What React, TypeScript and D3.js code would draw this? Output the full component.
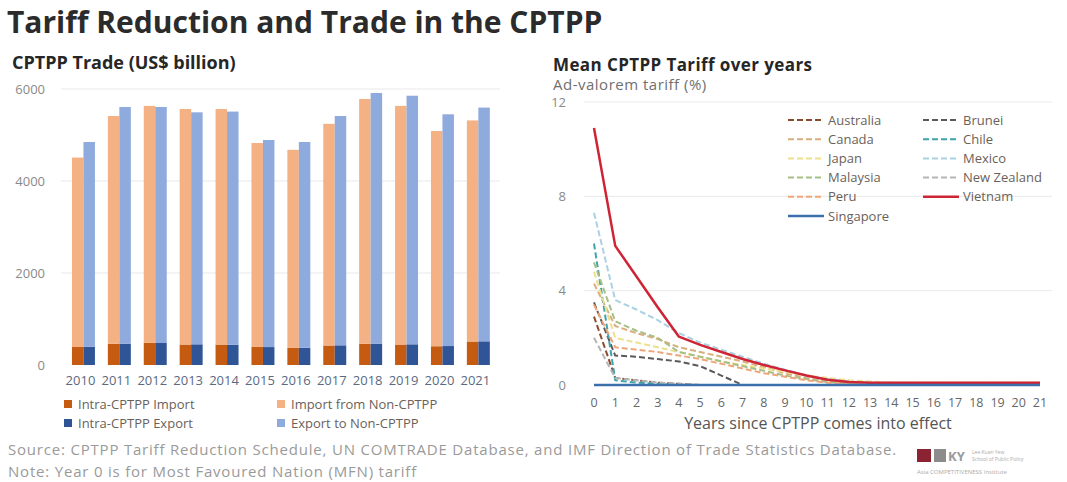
import React from 'react';
import * as d3 from 'd3';

// ---------- Left chart data (US$ billion) ----------
const years = ['2010', '2011', '2012', '2013', '2014', '2015', '2016', '2017', '2018', '2019', '2020', '2021'];
const intraImport = [391, 460, 482, 445, 445, 393, 371, 424, 460, 445, 408, 511];
const importNonCPTPP = [4118, 4953, 5151, 5120, 5120, 4433, 4307, 4819, 5323, 5188, 4679, 4806];
const intraExport = [395, 465, 478, 450, 440, 390, 375, 428, 465, 450, 412, 515];
const exportNonCPTPP = [4453, 5144, 5131, 5043, 5069, 4501, 4473, 4985, 5448, 5404, 5038, 5081];
const leftTicks = [0, 2000, 4000, 6000];

// ---------- Right chart data (mean ad-valorem tariff, %) ----------
const yearsSince = [0, 1, 2, 3, 4, 5, 6, 7, 8, 9, 10, 11, 12, 13, 14, 15, 16, 17, 18, 19, 20, 21];
const australia = [2.9, 0.3, 0.2, 0.1, 0.05, 0, 0, 0, 0, 0, 0, 0, 0, 0, 0, 0, 0, 0, 0, 0, 0, 0];
const brunei = [3.5, 1.25, 1.2, 1.1, 1.0, 0.8, 0.4, 0, 0, 0, 0, 0, 0, 0, 0, 0, 0, 0, 0, 0, 0, 0];
const canada = [4.3, 2.5, 2.2, 1.95, 1.6, 1.4, 1.2, 1.0, 0.75, 0.5, 0.3, 0.15, 0.05, 0, 0, 0, 0, 0, 0, 0, 0, 0];
const chile = [6.0, 0.2, 0.1, 0.05, 0, 0, 0, 0, 0, 0, 0, 0, 0, 0, 0, 0, 0, 0, 0, 0, 0, 0];
const japan = [4.8, 2.0, 1.8, 1.6, 1.4, 1.2, 1.0, 0.85, 0.7, 0.55, 0.4, 0.3, 0.2, 0.15, 0.1, 0.1, 0.1, 0.1, 0.1, 0.1, 0.1, 0.1];
const mexico = [7.3, 3.6, 3.2, 2.75, 2.2, 1.8, 1.5, 1.2, 0.9, 0.65, 0.4, 0.25, 0.15, 0.1, 0.1, 0.1, 0.1, 0.1, 0.1, 0.1, 0.1, 0.1];
const malaysia = [5.2, 2.7, 2.3, 2.0, 1.4, 1.2, 1.0, 0.8, 0.6, 0.4, 0.25, 0.12, 0.05, 0, 0, 0, 0, 0, 0, 0, 0, 0];
const newZealand = [2.0, 0.3, 0.2, 0.1, 0.05, 0, 0, 0, 0, 0, 0, 0, 0, 0, 0, 0, 0, 0, 0, 0, 0, 0];
const peru = [3.4, 1.6, 1.5, 1.4, 1.25, 1.1, 0.9, 0.7, 0.5, 0.35, 0.2, 0.1, 0.05, 0, 0, 0, 0, 0, 0, 0, 0, 0];
const vietnam = [10.9, 5.9, 4.6, 3.3, 2.05, 1.7, 1.4, 1.1, 0.85, 0.62, 0.4, 0.22, 0.13, 0.1, 0.1, 0.1, 0.1, 0.1, 0.1, 0.1, 0.1, 0.1];
const singapore = [0, 0, 0, 0, 0, 0, 0, 0, 0, 0, 0, 0, 0, 0, 0, 0, 0, 0, 0, 0, 0, 0];
const rightTicks = [0, 4, 8, 12];

const series = [
  { name: 'Australia', values: australia, color: '#8a4a2c', dash: '6,3', w: 2 },
  { name: 'Brunei', values: brunei, color: '#5a5a5a', dash: '6,3', w: 2 },
  { name: 'Canada', values: canada, color: '#d9ad7c', dash: '6,3', w: 2 },
  { name: 'Chile', values: chile, color: '#3fa3ad', dash: '6,3', w: 2 },
  { name: 'Japan', values: japan, color: '#ece08c', dash: '6,3', w: 2 },
  { name: 'Mexico', values: mexico, color: '#a9d2e4', dash: '6,3', w: 2 },
  { name: 'Malaysia', values: malaysia, color: '#a7bf86', dash: '6,3', w: 2 },
  { name: 'New Zealand', values: newZealand, color: '#b5b5b5', dash: '6,3', w: 2 },
  { name: 'Peru', values: peru, color: '#eea57a', dash: '6,3', w: 2 },
  { name: 'Vietnam', values: vietnam, color: '#cf2336', dash: '', w: 2.5 },
  { name: 'Singapore', values: singapore, color: '#3a6fab', dash: '', w: 2.5 },
];

const FONT = '"Open Sans", "Noto Sans", sans-serif';

export default function App() {
  // left scales
  const xL = d3.scaleBand<string>().domain(years).range([65.5, 496.3]).paddingInner(0.36).paddingOuter(0.18);
  const yL = d3.scaleLinear().domain([0, 6000]).range([365, 89]);
  const bw = xL.bandwidth() / 2;

  // right scales
  const xR = d3.scaleLinear().domain([0, 21]).range([594, 1040]);
  const yR = d3.scaleLinear().domain([0, 12]).range([385, 102]);
  const line = d3.line<number>().x((_, i) => xR(yearsSince[i])).y((v) => yR(v));

  const legendL = [
    { label: 'Intra-CPTPP Import', color: '#c55a11', x: 64, y: 404 },
    { label: 'Import from Non-CPTPP', color: '#f4b183', x: 277, y: 404 },
    { label: 'Intra-CPTPP Export', color: '#2f5597', x: 64, y: 423 },
    { label: 'Export to Non-CPTPP', color: '#8faadc', x: 277, y: 423 },
  ];

  const legendOrder = ['Australia', 'Brunei', 'Canada', 'Chile', 'Japan', 'Mexico', 'Malaysia', 'New Zealand', 'Peru', 'Vietnam', 'Singapore'];

  return (
    <svg width={1067} height={482} style={{ position: 'absolute', left: 0, top: 0, background: '#fff' }} fontFamily={FONT}>
      <rect x={0} y={0} width={1067} height={482} fill="#fff" />
      <text x={7} y={33} fontSize={30} fontWeight={700} fill="#2b2b2b">Tariff Reduction and Trade in the CPTPP</text>

      {/* ---------- Left chart ---------- */}
      <text x={12} y={69} fontSize={18} fontWeight={700} fill="#262626">CPTPP Trade (US$ billion)</text>
      {leftTicks.map((t) => (
        <g key={t}>
          {t > 0 && <line x1={61} x2={500} y1={yL(t)} y2={yL(t)} stroke="#e9e9e9" strokeWidth={1} />}
          <text x={45} y={yL(t) + 4.5} fontSize={13} fill="#8a8a8a" textAnchor="end">{t}</text>
        </g>
      ))}
      {years.map((yr, i) => {
        const x0 = xL(yr)!;
        return (
          <g key={yr}>
            <rect x={x0} width={bw} y={yL(intraImport[i])} height={yL(0) - yL(intraImport[i])} fill="#c55a11" />
            <rect x={x0} width={bw} y={yL(intraImport[i] + importNonCPTPP[i])} height={yL(intraImport[i]) - yL(intraImport[i] + importNonCPTPP[i])} fill="#f4b183" />
            <rect x={x0 + bw} width={bw} y={yL(intraExport[i])} height={yL(0) - yL(intraExport[i])} fill="#2f5597" />
            <rect x={x0 + bw} width={bw} y={yL(intraExport[i] + exportNonCPTPP[i])} height={yL(intraExport[i]) - yL(intraExport[i] + exportNonCPTPP[i])} fill="#8faadc" />
            <text x={x0 + bw - 3} y={385} fontSize={13} fill="#5b6a80" textAnchor="middle">{yr}</text>
          </g>
        );
      })}
      {legendL.map((l) => (
        <g key={l.label}>
          <rect x={l.x} y={l.y - 4} width={8} height={8} fill={l.color} />
          <text x={l.x + 14} y={l.y + 4.5} fontSize={13} fill="#6b5f5a">{l.label}</text>
        </g>
      ))}

      {/* ---------- Right chart ---------- */}
      <text x={553} y={71} fontSize={17} letterSpacing={0.4} fontWeight={700} fill="#262626">Mean CPTPP Tariff over years</text>
      <text x={553} y={90} fontSize={15} letterSpacing={0.5} fill="#6f6f6f">Ad-valorem tariff (%)</text>
      {rightTicks.map((t) => (
        <g key={t}>
          {t > 0 && <line x1={584} x2={1052} y1={yR(t)} y2={yR(t)} stroke="#e9e9e9" strokeWidth={1} />}
          <text x={566} y={yR(t) + 4.5} fontSize={13} fill="#8a8a8a" textAnchor="end">{t}</text>
        </g>
      ))}
      {yearsSince.map((t) => (
        <text key={t} x={xR(t)} y={407} fontSize={12.5} fill="#666" textAnchor="middle">{t}</text>
      ))}
      <text x={818} y={429} fontSize={16} fill="#555" textAnchor="middle">Years since CPTPP comes into effect</text>
      {series.map((s) => (
        <path key={s.name} d={line(s.values) || ''} fill="none" stroke={s.color} strokeWidth={s.w} strokeDasharray={s.dash || undefined} strokeLinejoin="round" />
      ))}
      {legendOrder.map((name, i) => {
        const s = series.find((d) => d.name === name)!;
        const col = i % 2;
        const row = Math.floor(i / 2);
        const lx = col === 0 ? 788 : 923;
        const ly = 120 + row * 19.2;
        return (
          <g key={name}>
            <line x1={lx} x2={lx + 36} y1={ly} y2={ly} stroke={s.color} strokeWidth={s.w} strokeDasharray={s.dash || undefined} />
            <text x={lx + 40} y={ly + 4.5} fontSize={13} fill="#6b5f5a">{name}</text>
          </g>
        );
      })}

      {/* ---------- Footer ---------- */}
      <text x={8} y={455} fontSize={15} letterSpacing={0.8} fill="#9a9a9a">Source: CPTPP Tariff Reduction Schedule, UN COMTRADE Database, and IMF Direction of Trade Statistics Database.</text>
      <text x={8} y={477} fontSize={15} letterSpacing={0.8} fill="#9a9a9a">Note: Year 0 is for Most Favoured Nation (MFN) tariff</text>
      <g>
        <rect x={917} y={449} width={14} height={13} fill="#8b2332" />
        <rect x={934} y={449} width={12} height={13} fill="#8c8c8c" />
        <text x={948} y={461} fontSize={13} fontWeight={700} fill="#9a9a9a">KY</text>
        <text x={972} y={454} fontSize={5} fill="#aaa">Lee Kuan Yew</text>
        <text x={972} y={461} fontSize={5} fill="#aaa">School of Public Policy</text>
        <text x={917} y={474} fontSize={6} fill="#aaa">Asia COMPETITIVENESS Institute</text>
      </g>
    </svg>
  );
}
